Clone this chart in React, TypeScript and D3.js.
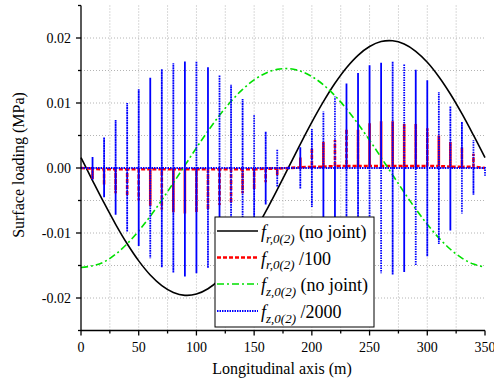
import React, { useEffect } from 'react';
import * as d3 from 'd3';

// Smooth curves, read every 10 m
const curveX = [0, 10, 20, 30, 40, 50, 60, 70, 80, 90, 100, 110, 120, 130, 140, 150, 160, 170, 180,
  190, 200, 210, 220, 230, 240, 250, 260, 270, 280, 290, 300, 310, 320, 330, 340, 350];
const frNoJoint = [0.00158, -0.00193, -0.00538, -0.00866, -0.01166, -0.01429, -0.01646, -0.01809, -0.01915,
  -0.01959, -0.0194, -0.01858, -0.01718, -0.01521, -0.01276, -0.0099, -0.00672, -0.00333, 0.00017,
  0.00367, 0.00705, 0.0102, 0.01303, 0.01543, 0.01734, 0.01869, 0.01945, 0.01957, 0.01907, 0.01795,
  0.01626, 0.01404, 0.01138, 0.00835, 0.00504, 0.00158];
const fzNoJoint = [-0.0153, -0.01505, -0.01445, -0.01325, -0.01165, -0.00968, -0.00742, -0.00494, -0.0023,
  0.0004, 0.0031, 0.00569, 0.0081, 0.01026, 0.0121, 0.01356, 0.01459, 0.01517, 0.01528,
  0.01491, 0.01408, 0.0128, 0.01113, 0.0091, 0.00679, 0.00427, 0.00162, -0.00108, -0.00375, -0.00631,
  -0.00866, -0.01075, -0.0125, -0.01386, -0.01478, -0.01525];

// Joint spikes, every 10 m
const jointX = [10, 20, 30, 40, 50, 60, 70, 80, 90, 100, 110, 120, 130, 140, 150, 160, 170, 180,
  190, 200, 210, 220, 230, 240, 250, 260, 270, 280, 290, 300, 310, 320, 330, 340];
const frBase = [-0.0001, -0.0002, -0.0002, -0.0002, -0.0002, -0.0002, -0.0002, -0.0002, -0.0002,
  -0.0002, -0.0002, -0.0002, -0.0002, -0.0002, -0.0002, -0.0001, -0.0001, 0,
  0.0001, 0.0002, 0.0002, 0.0003, 0.0003, 0.0003, 0.0003, 0.0003, 0.0003, 0.0003, 0.0003, 0.0003,
  0.0003, 0.0002, 0.0002, 0.0002];
const frSpike = [-0.0016, -0.0024, -0.0037, -0.0041, -0.0048, -0.0056, -0.0062, -0.0066, -0.0068,
  -0.0066, -0.0062, -0.0055, -0.0052, -0.0037, -0.0031, -0.0021, -0.001, 0,
  0.0015, 0.0029, 0.0038, 0.004, 0.0057, 0.0056, 0.0066, 0.0069, 0.0069, 0.0065, 0.0065,
  0.0058, 0.0047, 0.0038, 0.003, 0.002];
const fzHi = [0.0017, 0.0047, 0.0074, 0.01, 0.0121, 0.0139, 0.0152, 0.0161, 0.0164,
  0.0164, 0.0155, 0.0143, 0.0128, 0.0106, 0.0082, 0.0056, 0.0029, 0.0002,
  0.0032, 0.006, 0.0087, 0.011, 0.013, 0.0146, 0.0158, 0.0162, 0.0164, 0.016, 0.0151,
  0.0135, 0.0117, 0.0095, 0.0071, 0.0043];
const fzLo = [-0.0018, -0.0045, -0.0072, -0.0098, -0.012, -0.0139, -0.0153, -0.0161, -0.0167,
  -0.0162, -0.0154, -0.0143, -0.0128, -0.0106, -0.0082, -0.0056, -0.0029, -0.0002,
  -0.0032, -0.006, -0.0087, -0.011, -0.013, -0.0146, -0.0158, -0.0162, -0.0164, -0.016, -0.015,
  -0.0136, -0.0117, -0.0096, -0.007, -0.0041];
const fzEndLo = -0.0012;

const xTicks = [0, 50, 100, 150, 200, 250, 300, 350];
const xMinor = [25, 75, 125, 175, 225, 275, 325];
const yTicks = [-0.02, -0.01, 0, 0.01, 0.02];
const yMinor = [-0.025, -0.015, -0.005, 0.005, 0.015, 0.025];

const W = 494;
const H = 383;
const FONT = "'Liberation Serif', 'DejaVu Serif', serif";

const x = d3.scaleLinear().domain([0, 350]).range([81, 485]);
const y = d3.scaleLinear().domain([-0.025, 0.025]).range([330.5, 5.5]);

const smooth = d3.line<[number, number]>().x(d => x(d[0])).y(d => y(d[1])).curve(d3.curveCatmullRom);
const straight = d3.line<[number, number]>().x(d => x(d[0])).y(d => y(d[1]));

const fmtY = (v: number) => (Math.abs(v) < 1e-9 ? '0.00' : v.toFixed(2));

const Sub = ({ s }: { s: string }) => (
  <>
    <tspan fontStyle="italic">f</tspan>
    <tspan fontStyle="italic" fontSize={13} dy={4.5}>{s}</tspan>
  </>
);

export default function App() {
  useEffect(() => {
    document.body.style.margin = '0';
  }, []);

  const blackPts = curveX.map((v, i) => [v, frNoJoint[i]] as [number, number]);
  const greenPts = curveX.map((v, i) => [v, fzNoJoint[i]] as [number, number]);

  const redPts: [number, number][] = [[0, 0]];
  jointX.forEach((v, i) => {
    redPts.push([v, frBase[i]], [v, frBase[i] + frSpike[i]], [v, frBase[i]]);
  });
  redPts.push([350, 0]);

  const bluePts: [number, number][] = [[0, 0]];
  jointX.forEach((v, i) => {
    bluePts.push([v, 0], [v, fzHi[i]], [v, fzLo[i]], [v, 0]);
  });
  bluePts.push([350, 0], [350, fzEndLo]);

  const gridX = [...xMinor, 50, 100, 150, 200, 250, 300];
  const gridY = [-0.02, -0.015, -0.01, -0.005, 0, 0.005, 0.01, 0.015, 0.02];

  const lx = 215, ly = 217, lw = 159, lh = 110;
  const rows = [231, 257.5, 284, 311];

  return (
    <svg width={W} height={H} style={{ display: 'block', background: '#fff', fontFamily: FONT }}>
      {/* grid */}
      <g stroke="#b4b4b4" strokeWidth={1} strokeDasharray="1,2">
        {gridX.map(v => (
          <line key={'gx' + v} x1={x(v)} x2={x(v)} y1={y(-0.025)} y2={y(0.025)} />
        ))}
        {gridY.map(v => (
          <line key={'gy' + v} x1={x(0)} x2={x(350)} y1={y(v)} y2={y(v)} />
        ))}
      </g>

      {/* series */}
      <path d={smooth(blackPts) || ''} fill="none" stroke="#000" strokeWidth={1.6} />
      <path d={straight(redPts) || ''} fill="none" stroke="#ff0000" strokeWidth={2.6} strokeDasharray="4,2" />
      <path d={smooth(greenPts) || ''} fill="none" stroke="#00e000" strokeWidth={1.6} strokeDasharray="7,3,2,3" />
      <path d={straight(bluePts) || ''} fill="none" stroke="#0000ff" strokeWidth={1.8} strokeDasharray="1.5,1" />

      {/* axes */}
      <g stroke="#000" strokeWidth={1.3}>
        <line x1={x(0)} x2={x(0)} y1={y(0.025)} y2={y(-0.025)} />
        <line x1={x(0)} x2={x(350)} y1={y(-0.025)} y2={y(-0.025)} />
        {yTicks.map(v => (
          <line key={'yt' + v} x1={x(0) - 5} x2={x(0)} y1={y(v)} y2={y(v)} />
        ))}
        {yMinor.map(v => (
          <line key={'ym' + v} x1={x(0) - 3} x2={x(0)} y1={y(v)} y2={y(v)} />
        ))}
        {xTicks.map(v => (
          <line key={'xt' + v} x1={x(v)} x2={x(v)} y1={y(-0.025)} y2={y(-0.025) + 5} />
        ))}
        {xMinor.map(v => (
          <line key={'xm' + v} x1={x(v)} x2={x(v)} y1={y(-0.025)} y2={y(-0.025) + 3} />
        ))}
      </g>
      <g fontSize={14} fill="#000" style={{ fontFamily: FONT }}>
        {yTicks.map(v => (
          <text key={'yl' + v} x={x(0) - 10} y={y(v)} dy="0.35em" textAnchor="end">{fmtY(v)}</text>
        ))}
        {xTicks.map(v => (
          <text key={'xl' + v} x={x(v)} y={352} textAnchor="middle">{v}</text>
        ))}
      </g>
      <text x={282} y={374} fontSize={16} textAnchor="middle">Longitudinal axis (m)</text>
      <text transform="translate(24,165) rotate(-90)" fontSize={16} textAnchor="middle">Surface loading (MPa)</text>

      {/* legend */}
      <rect x={lx} y={ly} width={lw} height={lh} fill="#fff" stroke="#000" strokeWidth={1} />
      <line x1={217} x2={258} y1={rows[0]} y2={rows[0]} stroke="#000" strokeWidth={1.6} />
      <line x1={217} x2={258} y1={rows[1]} y2={rows[1]} stroke="#ff0000" strokeWidth={2.6} strokeDasharray="4,2" />
      <line x1={217} x2={258} y1={rows[2]} y2={rows[2]} stroke="#00e000" strokeWidth={1.6} strokeDasharray="7,3,2,3" />
      <line x1={217} x2={258} y1={rows[3]} y2={rows[3]} stroke="#0000ff" strokeWidth={1.8} strokeDasharray="1.5,1" />
      <g fontSize={18} fill="#000">
        <text x={261} y={rows[0] + 7}><Sub s="r,0(2)" /><tspan dy={-4.5}> (no joint)</tspan></text>
        <text x={261} y={rows[1] + 7}><Sub s="r,0(2)" /><tspan dy={-4.5}> /100</tspan></text>
        <text x={261} y={rows[2] + 7}><Sub s="z,0(2)" /><tspan dy={-4.5}> (no joint)</tspan></text>
        <text x={261} y={rows[3] + 7}><Sub s="z,0(2)" /><tspan dy={-4.5}> /2000</tspan></text>
      </g>
    </svg>
  );
}
